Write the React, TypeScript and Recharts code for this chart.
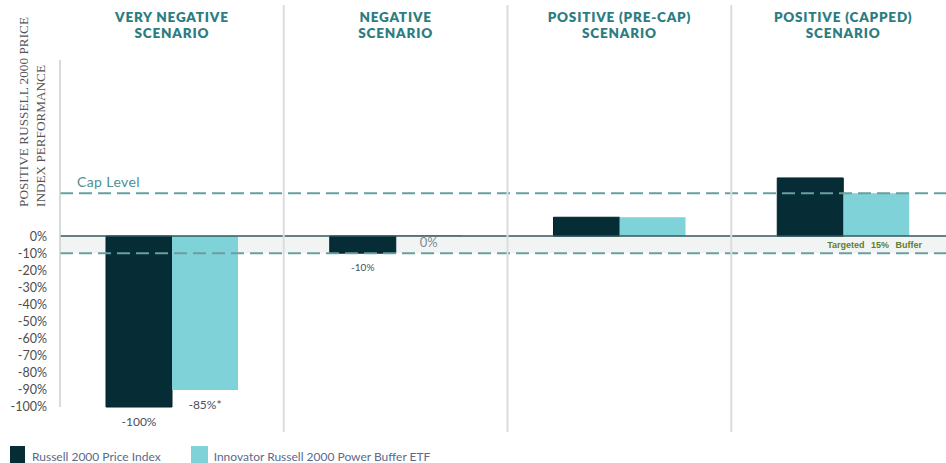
import { BarChart, Bar, XAxis, YAxis, ReferenceLine, ReferenceArea, LabelList } from "recharts";

const scenarios = [
    "VERY NEGATIVE SCENARIO",
    "NEGATIVE SCENARIO",
    "POSITIVE (PRE-CAP) SCENARIO",
    "POSITIVE (CAPPED) SCENARIO",
];
const russell = [-100, -10, 11, 34];
const buffer = [-90, 0, 11, 25];
const russellLabels = ["-100%", "-10%", "", ""];
const bufferLabels = ["-85%*", "0%", "", ""];
const yTicks = [0, -10, -20, -30, -40, -50, -60, -70, -80, -90, -100];
const capLevel = 25;
const bufferLevel = -10;

const data = scenarios.map((s, i) => ({
    scenario: s,
    russell: russell[i],
    buffer: buffer[i],
    russellLabel: russellLabels[i],
    bufferLabel: bufferLabels[i],
}));

const DARK = "#062d36";
const LIGHT = "#80d2d9";
const DASH = "#6a9fa0";

const ScenarioTick = (props: any) => {
    const { x, payload, width, visibleTicksCount } = props;
    const half = payload.offset || width / (2 * visibleTicksCount);
    const v: string = payload.value;
    const cut = v.lastIndexOf(" ");
    return (
        <g>
            <line x1={x + half} x2={x + half} y1={5} y2={432} stroke="#dcdcdc" strokeWidth={2} />
            <text x={x} y={22} textAnchor="middle" fill="#2c7d82" fontSize={13.5} fontWeight={800} letterSpacing={0.8} fontFamily="Lato">
                {v.slice(0, cut)}
            </text>
            <text x={x} y={38} textAnchor="middle" fill="#2c7d82" fontSize={13.5} fontWeight={800} letterSpacing={0.8} fontFamily="Lato">
                {v.slice(cut + 1)}
            </text>
        </g>
    );
};

const BarLabel = (props: any) => {
    const { x, y, width, height, value } = props;
    if (!value) return null;
    const bottom = Math.max(y, y + height);
    const zero = value === "0%";
    const small = value === "-10%";
    return (
        <text x={x + width / 2} y={bottom + (zero ? 11 : small ? 18 : 19)} textAnchor="middle" fill={zero ? "#7e8a92" : "#4a4f5c"}
            fontSize={zero ? 13 : small ? 10 : 12} fontFamily="Lato">
            {value}
        </text>
    );
};

const YLabel = () => (
    <g fill="#555" fontSize={13.5} fontFamily="Liberation Serif">
        <text transform="translate(28,207) rotate(-90)" textLength={190} lengthAdjust="spacingAndGlyphs">POSITIVE RUSSELL 2000 PRICE</text>
        <text transform="translate(45,207) rotate(-90)" textLength={142} lengthAdjust="spacingAndGlyphs">INDEX PERFORMANCE</text>
    </g>
);

const CapLabel = (props: any) => {
    const { x, y } = props.viewBox;
    return (
        <text x={x + 17} y={y - 6} fill="#4e8f94" fontSize={14} letterSpacing={0.4} fontFamily="Lato">
            Cap Level
        </text>
    );
};

const BufferLabel = (props: any) => {
    const { x, y, width, height } = props.viewBox;
    return (
        <text x={x + width - 33} y={y + height / 2 + 3} textAnchor="end" fill="#5c7f2e" fontSize={9} fontWeight={700}
            wordSpacing={4} fontFamily="Liberation Sans">
            Targeted 15% Buffer
        </text>
    );
};

export default function App() {
    return (
        <div style={{ position: "absolute", left: 0, top: 0, width: 946, height: 463, overflow: "hidden", background: "#fff" }}>
            <BarChart width={970} height={463} data={data} margin={{ top: 0, right: 15, left: 0, bottom: 56 }} barGap={0} barSize={66}>
                <XAxis dataKey="scenario" orientation="top" height={60} axisLine={false} tickLine={false} interval={0} tick={<ScenarioTick />} />
                <YAxis type="number" domain={[-100, 103]} ticks={yTicks} interval={0} width={60} tickFormatter={(v) => `${v}%`}
                    tickLine={false} tickMargin={7} axisLine={{ stroke: "#c9d0d3", strokeWidth: 1.5 }}
                    tick={{ fill: "#4d4d4d", fontSize: 12.5, fontFamily: "Lato" }} label={<YLabel />} />
                <ReferenceArea y1={bufferLevel} y2={0} fill="#f2f4f4" fillOpacity={1} stroke="none" label={<BufferLabel />} />
                <Bar dataKey="russell" name="Russell 2000 Price Index" fill={DARK} stroke="#02222a" strokeWidth={1} isAnimationActive={false}>
                    <LabelList dataKey="russellLabel" content={<BarLabel />} />
                </Bar>
                <Bar dataKey="buffer" name="Innovator Russell 2000 Power Buffer ETF" fill={LIGHT} minPointSize={1} isAnimationActive={false}>
                    <LabelList dataKey="bufferLabel" content={<BarLabel />} />
                </Bar>
                <ReferenceLine y={0} stroke="#2f5a5e" strokeWidth={1.5} />
                <ReferenceLine y={capLevel} stroke={DASH} strokeWidth={2} strokeDasharray="13 6" label={<CapLabel />} />
                <ReferenceLine y={bufferLevel} stroke={DASH} strokeWidth={2} strokeDasharray="13 6" />
            </BarChart>
            <div style={{ position: "absolute", left: 10, top: 446, display: "flex", alignItems: "flex-start", fontFamily: "Lato", fontSize: 12, color: "#5a6a8a" }}>
                <span style={{ width: 15, height: 17, background: DARK, marginRight: 7 }} />
                <span style={{ marginTop: 3, marginRight: 30 }}>Russell 2000 Price Index</span>
                <span style={{ width: 17, height: 17, background: LIGHT, marginRight: 6 }} />
                <span style={{ marginTop: 3 }}>Innovator Russell 2000 Power Buffer ETF</span>
            </div>
        </div>
    );
}
